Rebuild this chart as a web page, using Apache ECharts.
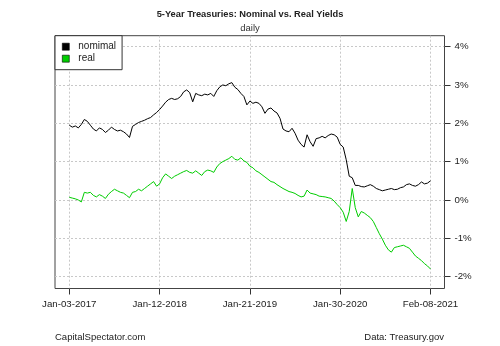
<!DOCTYPE html>
<html>
<head>
<meta charset="utf-8">
<script src="https://cdn.jsdelivr.net/npm/echarts@6/dist/echarts.min.js"></script>
<style>
html,body{margin:0;padding:0;background:#fff;}
#main{width:500px;height:346px;}
</style>
</head>
<body>
<div id="main"></div>
<script>
// Sampled every ~6 trading days, Jan-03-2017 .. Feb-08-2021
const nominal = [1.95,1.90,1.93,1.88,1.97,2.10,2.05,1.95,1.85,1.80,1.88,1.84,1.76,1.82,1.90,1.84,1.80,1.82,1.78,1.72,
  1.63,1.92,1.97,2.02,2.05,2.08,2.12,2.15,2.22,2.28,2.36,2.45,2.55,2.62,2.65,2.62,2.64,2.70,2.82,2.87,
  2.80,2.56,2.78,2.74,2.72,2.76,2.74,2.78,2.70,2.85,2.95,3.00,2.98,3.03,3.06,2.94,2.88,2.78,2.70,2.48,
  2.58,2.52,2.55,2.52,2.43,2.26,2.37,2.40,2.32,2.27,2.13,1.85,1.80,1.78,1.87,1.74,1.56,1.45,1.38,1.70,
  1.52,1.40,1.60,1.62,1.66,1.62,1.68,1.72,1.70,1.64,1.45,1.38,1.05,0.62,0.58,0.38,0.38,0.35,0.34,0.37,
  0.40,0.36,0.30,0.27,0.24,0.26,0.28,0.30,0.27,0.28,0.32,0.34,0.40,0.42,0.38,0.36,0.40,0.47,0.42,0.44,0.50];
const real = [0.07,0.05,0.03,0.00,-0.05,0.20,0.18,0.20,0.12,0.08,0.14,0.10,0.04,0.15,0.22,0.28,0.24,0.20,0.18,0.12,
  0.06,0.20,0.22,0.28,0.24,0.30,0.36,0.42,0.48,0.36,0.42,0.58,0.68,0.62,0.56,0.62,0.66,0.70,0.74,0.77,
  0.72,0.70,0.76,0.70,0.64,0.74,0.78,0.76,0.72,0.86,0.95,1.00,1.04,1.08,1.14,1.06,1.04,1.10,1.02,0.98,
  0.88,0.84,0.76,0.72,0.66,0.60,0.54,0.48,0.46,0.40,0.35,0.30,0.26,0.22,0.20,0.17,0.12,0.08,0.10,0.26,
  0.18,0.16,0.14,0.10,0.09,0.08,0.06,0.04,-0.03,-0.12,-0.20,-0.32,-0.56,-0.30,0.30,-0.20,-0.44,-0.30,-0.34,-0.40,
  -0.46,-0.56,-0.72,-0.88,-1.02,-1.18,-1.30,-1.36,-1.24,-1.22,-1.20,-1.18,-1.22,-1.26,-1.36,-1.46,-1.52,-1.58,-1.66,-1.72,-1.80];
const xTickIndex = [0,30,60,90,120];
const xTickLabels = ['Jan-03-2017','Jan-12-2018','Jan-21-2019','Jan-30-2020','Feb-08-2021'];
const yTicks = [-2,-1,0,1,2,3,4];

const FONT = 'Liberation Sans, Arial, sans-serif';
const chart = echarts.init(document.getElementById('main'), null, {renderer:'canvas'});
const gridLine = {show:true, lineStyle:{color:'#c8c8c8', type:[2,2], width:1}};
chart.setOption({
  animation:false,
  backgroundColor:'#fff',
  title:{
    text:'5-Year Treasuries: Nominal vs. Real Yields',
    subtext:'daily',
    left:'center', top:8.3, itemGap:2, padding:0,
    textStyle:{fontFamily:FONT, fontSize:9.3, fontWeight:'bold', color:'#222', lineHeight:12},
    subtextStyle:{fontFamily:FONT, fontSize:9.5, color:'#333', lineHeight:12}
  },
  legend:{
    left:55, top:35.7, orient:'vertical',
    backgroundColor:'#fff', borderColor:'#333', borderWidth:1,
    padding:[5,6,5,7], itemGap:0, itemWidth:7, itemHeight:7,
    icon:'rect',
    itemStyle:{borderColor:'#000', borderWidth:0.6},
    textStyle:{fontFamily:FONT, fontSize:10, color:'#222', lineHeight:12, padding:[0,0,0,4]},
    data:[{name:'nomimal'},{name:'real'}]
  },
  grid:{left:55, top:35.7, right:55.5, bottom:57.5, show:true, borderColor:'#444', borderWidth:1, backgroundColor:'transparent'},
  xAxis:{
    type:'value', min:-4.75, max:124.65,
    axisLine:{show:false, onZero:false},
    axisTick:{show:true, customValues:xTickIndex, length:6, lineStyle:{color:'#333'}},
    axisLabel:{customValues:xTickIndex, margin:11, fontFamily:FONT, fontSize:9.7, color:'#222',
      formatter:(v)=>xTickLabels[xTickIndex.indexOf(Math.round(v))] || ''},
    splitLine:gridLine
  },
  yAxis:{
    type:'value', position:'right', min:-2.308, max:4.284,
    axisLine:{show:false, onZero:false},
    axisTick:{show:true, customValues:yTicks, length:6, lineStyle:{color:'#333'}},
    axisLabel:{customValues:yTicks, margin:10, fontFamily:FONT, fontSize:9.7, color:'#222',
      formatter:(v)=>Math.round(v)+'%'},
    splitLine:gridLine
  },
  series:[
    {name:'nomimal', type:'line', data:nominal.map((v,i)=>[i,v]), showSymbol:false, symbol:'none',
      lineStyle:{color:'#000', width:1}, itemStyle:{color:'#000'}},
    {name:'real', type:'line', data:real.map((v,i)=>[i,v]), showSymbol:false, symbol:'none',
      lineStyle:{color:'#00cd00', width:1}, itemStyle:{color:'#00cd00'}}
  ],
  graphic:[
    {type:'text', left:55, top:332, style:{text:'CapitalSpectator.com', font:'9.5px '+FONT, fill:'#222'}},
    {type:'text', right:56, top:332, style:{text:'Data: Treasury.gov', font:'9.5px '+FONT, fill:'#222'}}
  ]
});
</script>
</body>
</html>
